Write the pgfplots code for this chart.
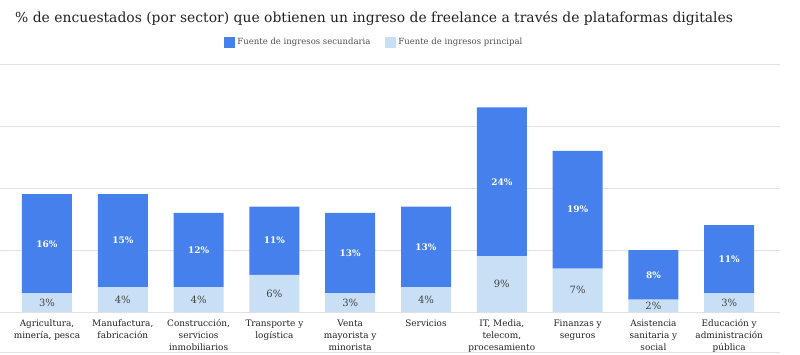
\documentclass[border=0pt]{standalone}
\usepackage{fontspec}
\setmainfont{DejaVu Serif}
\usepackage{pgfplots}
\usepackage{pgfplotstable}
\pgfplotsset{compat=1.18}
\definecolor{sec}{HTML}{4680EC}
\definecolor{pri}{HTML}{C9DFF5}
\definecolor{txt}{HTML}{222222}
\definecolor{gridc}{HTML}{E2E2E2}
\definecolor{basec}{HTML}{777777}
\pgfplotstableread{
x pri sec
0 3 16
1 4 15
2 4 12
3 6 11
4 3 13
5 4 13
6 9 24
7 7 19
8 2 8
9 3 11
}\datatable
% label positions: middle of each segment
\pgfplotstableread{
x ypri lpri ysec lsec
0 1.5 3 11 16
1 2 4 11.5 15
2 2 4 10 12
3 3 6 11.5 11
4 1.5 3 9.5 13
5 2 4 10.5 13
6 4.5 9 21 24
7 3.5 7 16.5 19
8 1 2 6 8
9 1.5 3 8.5 11
}\labeltable
\pgfplotsset{commonaxis/.style={
  at={(0pt,42pt)}, anchor=south west,
  scale only axis, width=780pt, height=248pt,
  ymin=0, ymax=40, xmin=-0.62, xmax=9.67,
}}
\begin{document}
\begin{tikzpicture}[x=1pt,y=1pt]
\path[use as bounding box] (0,0) rectangle (800,354);
\clip (0,0) rectangle (800,354);
\node[anchor=base west, font=\fontsize{13.9}{16}\selectfont, text=txt, inner sep=0] at (15,331)
  {\% de encuestados (por sector) que obtienen un ingreso de freelance a través de plataformas digitales};
\draw[gridc, line width=1pt] (0,2) -- (780,2);
\begin{axis}[
  commonaxis,
  ybar stacked, bar width=50pt,
  axis line style={draw=none},
  ytick={0,10,20,30,40}, yticklabels={},
  ymajorgrids, major grid style={gridc, line width=1pt},
  extra y ticks={0}, extra y tick labels={},
  extra y tick style={grid style={basec, line width=1.3pt}},
  tick style={draw=none},
  xtick={0,...,9},
  xticklabels={{Agricultura,\\minería, pesca},{Manufactura,\\fabricación},{Construcción,\\servicios\\inmobiliarios},{Transporte y\\logística},{Venta\\mayorista y\\minorista},{Servicios},{IT, Media,\\telecom,\\procesamiento\\de datos},{Finanzas y\\seguros},{Asistencia\\sanitaria y\\social},{Educación y\\administración\\pública}},
  xticklabel style={align=center, font=\fontsize{8.9}{12}\selectfont, text=txt, anchor=north, yshift=-4pt},
  legend columns=2,
  legend style={at={(axis description cs:0.48,1.0887)}, anchor=center, draw=none, fill=none,
     font=\fontsize{8.5}{10}\selectfont, text=txt!80,
     /tikz/every even column/.append style={column sep=13pt}},
  legend image code/.code={\fill[#1, draw=none] (0pt,-5.5pt) rectangle (11pt,5.5pt);},
]
\addlegendimage{fill=sec, draw=none}\addlegendentry{Fuente de ingresos secundaria}
\addlegendimage{fill=pri, draw=none}\addlegendentry{Fuente de ingresos principal}
\addplot[fill=pri, draw=none, forget plot] table[x=x, y=pri]{\datatable};
\addplot[fill=sec, draw=none, forget plot] table[x=x, y=sec]{\datatable};
\end{axis}
\begin{axis}[
  commonaxis, hide axis,
]
\addplot[draw=none, mark=none, point meta=explicit,
  nodes near coords={\pgfmathprintnumber[assume math mode=true]{\pgfplotspointmeta}\%},
  every node near coord/.style={anchor=center, text=txt!85, font=\fontsize{10}{12}\selectfont}]
  table[x=x, y=ypri, meta=lpri]{\labeltable};
\addplot[draw=none, mark=none, point meta=explicit,
  nodes near coords={\pgfmathprintnumber[assume math mode=true]{\pgfplotspointmeta}\%},
  every node near coord/.style={anchor=center, text=white, font=\bfseries\fontsize{9}{11}\selectfont}]
  table[x=x, y=ysec, meta=lsec]{\labeltable};
\end{axis}
\end{tikzpicture}
\end{document}
